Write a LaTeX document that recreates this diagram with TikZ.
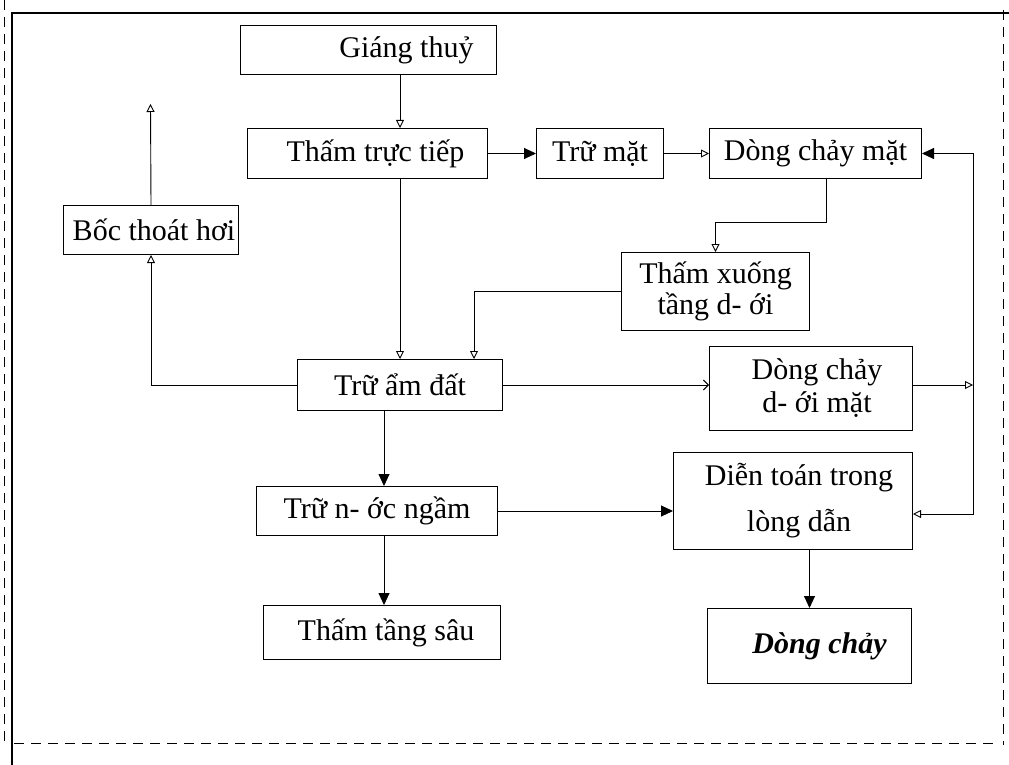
\documentclass[tikz,border=0pt]{standalone}
\usepackage{fontspec}
\setmainfont{Liberation Serif}
\usetikzlibrary{arrows.meta,calc}
\begin{document}
\begin{tikzpicture}[x=1pt,y=-1pt,
  box/.style={draw, line width=1pt, inner sep=0pt, anchor=north west, align=center,
    font=\fontsize{30}{33}\selectfont},
  oa/.style={-{Triangle[open,length=8pt,width=8pt]}, line width=0.9pt},
  ob/.style={-{Straight Barb[length=5pt,width=10pt]}, line width=0.9pt},
  fa/.style={-{Triangle[length=12pt,width=11pt]}, line width=0.9pt},
  frame/.style={line width=1.3pt},
  dframe/.style={line width=1pt, dash pattern=on 10pt off 7pt}]
\useasboundingbox (0,0) rectangle (1009,765);
% frames
\draw[frame] (1009,13) -- (12,13) -- (12,765);
\draw[dframe] (4,0) -- (4,742) -- (8,742);
\draw[dframe] (14,743) -- (1000,743);
\draw[dframe] (1003,10) -- (1003,745);
% helper coordinates
\coordinate (xA) at (400,0);
\coordinate (xB) at (826,0);
\coordinate (xE) at (474,0);
\coordinate (xF) at (384,0);
\coordinate (r1) at (973,0);
\coordinate (evap) at (150.5,104);
% boxes
\node[box, minimum width=256, minimum height=49] (gt) at (240,25) {\hspace*{76pt}Giáng thuỷ};
\node[box, minimum width=240, minimum height=50] (ttt) at (247,128) {\hspace*{16pt}Thấm trực tiếp};
\node[box, minimum width=127, minimum height=50] (tm) at (536,128) {Trữ mặt};
\node[box, minimum width=212, minimum height=50] (dcm) at (709,128) {Dòng chảy mặt};
\node[box, minimum width=175, minimum height=49] (bth) at (63,205) {\hspace*{6pt}Bốc thoát hơi};
\node[box, minimum width=188, minimum height=78, font=\fontsize{30}{31}\selectfont] (tx) at (621,252) {Thấm xuống\\tầng d- ới};
\node[box, minimum width=205, minimum height=51] (tad) at (297,359) {Trữ ẩm đất};
\node[box, minimum width=203, minimum height=84] (dcdm) at (709,346) {\hspace*{12pt}Dòng chảy\\\hspace*{12pt}d- ới mặt};
\node[box, minimum width=239, minimum height=97, font=\fontsize{30}{46}\selectfont] (dt) at (673,452) {\hspace*{12pt}Diễn toán trong\\\hspace*{12pt}lòng dẫn};
\node[box, minimum width=241, minimum height=49] (tnn) at (256,486) {Trữ n- ớc ngầm};
\node[box, minimum width=237, minimum height=54] (tts) at (263,605) {\hspace*{8pt}Thấm tầng sâu};
\node[box, minimum width=204, minimum height=75, font=\fontsize{30}{33}\selectfont\bfseries\itshape] (dc) at (707,608) {\hspace*{20pt}Dòng chảy};
% connectors
\draw[oa] (gt.south -| xA) -- (ttt.north -| xA);
\draw[fa] (ttt.east) -- (tm.west);
\draw[oa] (tm.east) -- (dcm.west);
\draw[oa] (ttt.south -| xA) -- (tad.north -| xA);
\draw[oa] (dcm.south -| xB) |- ([yshift=30pt]tx.north) -- (tx.north);
\draw[oa] (tx.west) -| (tad.north -| xE);
\draw[oa] (tad.west) -| (bth.south);
\draw[oa] (bth.north) -- (evap);
\draw[ob] (tad.east) -- (tad.east -| dcdm.west);
\draw[oa] (tad.east -| dcdm.east) -- (tad.east -| r1);
\draw[fa] (tad.east -| r1) |- (dcm.east);
\draw[oa] (tad.east -| r1) |- ([yshift=-13pt]dt.east);
\draw[fa] (tad.south -| xF) -- (tnn.north -| xF);
\draw[fa] (tnn.east) -- (tnn.east -| dt.west);
\draw[fa] (tnn.south -| xF) -- (tts.north -| xF);
\draw[fa] (dc.north |- dt.south) -- (dc.north);
\end{tikzpicture}
\end{document}
